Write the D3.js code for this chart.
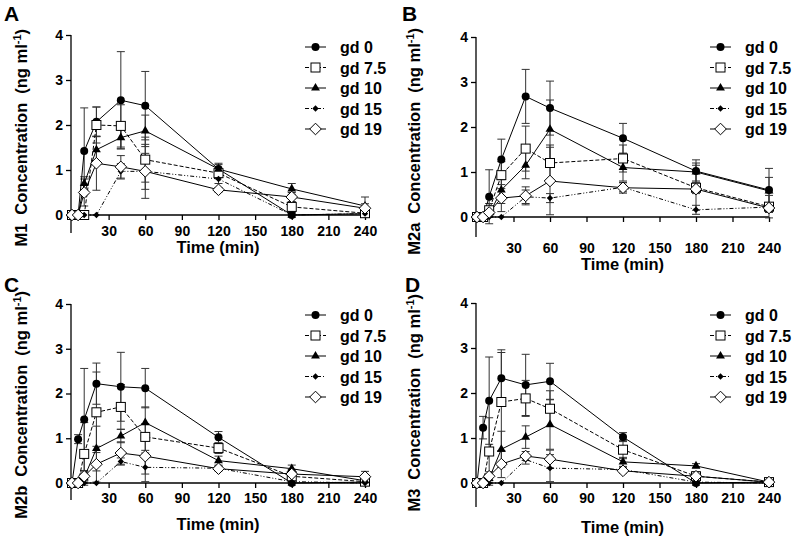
<!DOCTYPE html>
<html><head><meta charset="utf-8">
<script src="https://cdn.jsdelivr.net/npm/d3@7"></script>
<style>body{margin:0;background:#fff} text{font-family:"Liberation Sans",Arial,sans-serif;font-weight:bold;fill:#000}</style>
</head><body><svg id="c" width="793" height="539"></svg>
<script>
// ---------- data ----------
const times = [0, 5, 10, 20, 40, 60, 120, 180, 240];
const groups = ["gd 0", "gd 7.5", "gd 10", "gd 15", "gd 19"];
const xTicks = [30, 60, 90, 120, 150, 180, 210, 240];
const yTicks = [0, 1, 2, 3, 4];
const panelLetters = ["A", "B", "C", "D"];
const metabolites = ["M1", "M2a", "M2b", "M3"];

const M1_mean = [
  [0, 0, 1.42, 2.07, 2.55, 2.43, 1.02, 0, 0.03],
  [0, 0, 0, 2.0, 1.98, 1.23, 0.93, 0.18, 0.04],
  [0, 0, 0.7, 1.45, 1.72, 1.87, 1.02, 0.58, 0.2],
  [0, 0, 0, 0, 0.97, 0.97, 0.8, 0.0, 0.03],
  [0, 0, 0.5, 1.15, 1.07, 0.97, 0.56, 0.4, 0.15]
];
const M1_sd = [
  [0, 0, 0.96, 0.33, 1.08, 0.76, 0.13, 0.05, 0.05],
  [0, 0, 0, 0.4, 0.47, 0.5, 0.1, 0.1, 0.05],
  [0, 0, 0.15, 0.3, 0.25, 0.35, 0.1, 0.12, 0.2],
  [0, 0, 0, 0, 0.17, 0.6, 0.1, 0.05, 0.05],
  [0, 0, 0.3, 0.6, 0.25, 0.4, 0.05, 0.1, 0.1]
];
const M2a_mean = [
  [0, 0, 0.45, 1.28, 2.68, 2.42, 1.75, 1.02, 0.6],
  [0, 0, 0.15, 0.93, 1.52, 1.2, 1.3, 0.65, 0.23],
  [0, 0, 0.05, 0.6, 1.15, 1.95, 1.1, 1.0, 0.58],
  [0, 0, 0, 0, 0.45, 0.42, 0.66, 0.16, 0.22],
  [0, 0, 0.1, 0.42, 0.47, 0.8, 0.65, 0.62, 0.2]
];
const M2a_sd = [
  [0, 0, 0.6, 0.45, 0.6, 0.6, 0.33, 0.25, 0.48],
  [0, 0, 0.15, 0.3, 0.5, 0.4, 0.3, 0.5, 0.25],
  [0, 0, 0.05, 0.3, 0.3, 0.65, 0.3, 0.2, 0.3],
  [0, 0, 0, 0, 0.15, 0.1, 0.1, 0.1, 0.1],
  [0, 0, 0.1, 0.3, 0.2, 0.75, 0.12, 0.1, 0.1]
];
const M2b_mean = [
  [0, 0.98, 1.42, 2.22, 2.15, 2.12, 1.02, 0, 0.02],
  [0, 0, 0.65, 1.58, 1.7, 1.03, 0.78, 0.15, 0.03],
  [0, 0, 0.12, 0.77, 1.05, 1.35, 0.5, 0.32, 0.05],
  [0, 0, 0, 0, 0.48, 0.35, 0.33, 0.03, 0],
  [0, 0, 0.15, 0.42, 0.67, 0.6, 0.32, 0.2, 0.14]
];
const M2b_sd = [
  [0, 0.1, 1.14, 0.46, 0.77, 0.44, 0.13, 0.05, 0.05],
  [0, 0, 0.7, 0.9, 0.5, 0.3, 0.12, 0.1, 0.05],
  [0, 0, 0.1, 0.5, 0.15, 0.35, 0.1, 0.08, 0.05],
  [0, 0, 0, 0, 0.08, 0.32, 0.05, 0.03, 0.02],
  [0, 0, 0.1, 0.4, 0.25, 0.4, 0.05, 0.1, 0.12]
];
const M3_mean = [
  [0, 1.23, 1.83, 2.33, 2.18, 2.26, 1.02, 0, 0.02],
  [0, 0, 0.7, 1.8, 1.88, 1.65, 0.74, 0.15, 0.02],
  [0, 0, 0.1, 0.75, 1.02, 1.3, 0.47, 0.38, 0.02],
  [0, 0, 0, 0, 0.52, 0.33, 0.3, 0.02, 0],
  [0, 0, 0.15, 0.42, 0.6, 0.53, 0.27, 0.15, 0.02]
];
const M3_sd = [
  [0, 0.25, 0.97, 0.63, 0.68, 0.4, 0.1, 0.05, 0.03],
  [0, 0, 0.75, 1.1, 0.4, 0.4, 0.2, 0.1, 0.02],
  [0, 0, 0.1, 0.4, 0.25, 0.55, 0.1, 0.05, 0.02],
  [0, 0, 0, 0, 0.1, 0.3, 0.05, 0.02, 0],
  [0, 0, 0.1, 0.3, 0.1, 0.2, 0.05, 0.05, 0.02]
];
const means = [M1_mean, M2a_mean, M2b_mean, M3_mean];
const sds = [M1_sd, M2a_sd, M2b_sd, M3_sd];

// ---------- layout / style ----------
const layout = [
  {lx: 4, ly: 21, left: 71, right: 365, top: 35, zero: 215, ext: 18, tickY: 236, titleY: 253, ylabX: 27, ylabTop: 29, legX: 305, legY: 47},
  {lx: 402, ly: 21, left: 476, right: 769, top: 37, zero: 217, ext: 20, tickY: 253, titleY: 270, ylabX: 420, ylabTop: 28, legX: 710, legY: 47},
  {lx: 4, ly: 292, left: 71, right: 365, top: 304, zero: 483, ext: 17, tickY: 503, titleY: 530, ylabX: 27, ylabTop: 291, legX: 305, legY: 315},
  {lx: 405, ly: 292, left: 476, right: 769, top: 303, zero: 483, ext: 24, tickY: 503, titleY: 533, ylabX: 420, ylabTop: 294, legX: 710, legY: 315}
];
const dashes = [null, "4,2", null, "4,2,1,2,1,2", null];
const legStep = 20.5;
const FONT = "'Liberation Sans', Arial, sans-serif";

const svg = d3.select("#c");

function marker(g, i, x, y) {
  const s = g.append("g").attr("transform", `translate(${x},${y})`);
  if (i === 0) s.append("circle").attr("r", 4).attr("fill", "#000");
  else if (i === 1) s.append("rect").attr("x", -4.5).attr("y", -4.5).attr("width", 9).attr("height", 9).attr("fill", "#fff").attr("stroke", "#000").attr("stroke-width", 1);
  else if (i === 2) s.append("path").attr("d", d3.symbol(d3.symbolTriangle, 34)()).attr("fill", "#000");
  else if (i === 3) s.append("path").attr("d", "M0,-3.2L3.2,0L0,3.2L-3.2,0Z").attr("fill", "#000");
  else s.append("path").attr("d", "M0,-5.8L5.8,0L0,5.8L-5.8,0Z").attr("fill", "#fff").attr("stroke", "#000").attr("stroke-width", 1);
}

layout.forEach((L, p) => {
  const x = d3.scaleLinear().domain([0, 240]).range([L.left + 1, L.right]);
  const y = d3.scaleLinear().domain([0, 4]).range([L.zero, L.top]);
  const g = svg.append("g");

  g.append("text").attr("x", L.lx).attr("y", L.ly).style("font-size", "21px").text(panelLetters[p]);

  // y axis
  const ya = d3.axisLeft(y).tickValues(yTicks).tickSize(5).tickPadding(3).tickFormat(d3.format("d"));
  const yg = g.append("g").attr("transform", `translate(${L.left},0)`).call(ya);
  yg.select(".domain").attr("d", `M0,${L.top}V${L.zero + L.ext}`);
  yg.selectAll("line,path").attr("stroke", "#000").attr("stroke-width", 1.3);
  yg.selectAll("text").style("font-size", "14px").style("font-family", FONT).style("font-weight", "bold");

  // x axis
  const xa = d3.axisBottom(x).tickValues(xTicks).tickSize(5).tickFormat(d3.format("d"));
  const xg = g.append("g").attr("transform", `translate(0,${L.zero})`).call(xa);
  xg.select(".domain").attr("d", `M${L.left},0H${L.right}`);
  xg.selectAll("line,path").attr("stroke", "#000").attr("stroke-width", 1.3);
  xg.selectAll("text").attr("y", L.tickY - L.zero).attr("dy", 0).style("font-size", "14px").style("font-family", FONT).style("font-weight", "bold");

  // axis titles
  g.append("text").attr("x", (L.left + L.right) / 2).attr("y", L.titleY).attr("text-anchor", "middle").style("font-size", "16.5px").text("Time (min)");
  const yl = g.append("text").attr("transform", `translate(${L.ylabX},${L.ylabTop}) rotate(-90)`).attr("text-anchor", "end").style("font-size", "16.5px");
  yl.append("tspan").text(metabolites[p]);
  yl.append("tspan").attr("dx", 9).text("Concentration");
  yl.append("tspan").attr("dx", 9).text("(ng ml");
  yl.append("tspan").attr("dy", -6).style("font-size", "11px").text("-1");
  yl.append("tspan").attr("dy", 6).text(")");

  const line = d3.line().x((d, k) => x(times[k])).y(d => y(d));
  groups.forEach((gn, i) => {
    means[p][i].forEach((m, k) => {
      const s = sds[p][i][k];
      if (s <= 0) return;
      const cx = x(times[k]);
      g.append("path").attr("d", `M${cx},${y(m - s)}V${y(m + s)}M${cx - 4},${y(m + s)}H${cx + 4}M${cx - 4},${y(m - s)}H${cx + 4}`)
        .attr("stroke", "#333").attr("stroke-width", 1).attr("fill", "none");
    });
  });
  groups.forEach((gn, i) => {
    g.append("path").datum(means[p][i]).attr("d", line).attr("fill", "none").attr("stroke", "#000").attr("stroke-width", 1)
      .attr("stroke-dasharray", dashes[i]);
  });
  groups.forEach((gn, i) => {
    means[p][i].forEach((m, k) => marker(g, i, x(times[k]), y(m)));
  });

  // legend
  groups.forEach((gn, i) => {
    const ly = L.legY + i * legStep;
    g.append("line").attr("x1", L.legX).attr("x2", L.legX + 21).attr("y1", ly).attr("y2", ly)
      .attr("stroke", "#000").attr("stroke-width", 1).attr("stroke-dasharray", dashes[i]);
    marker(g, i, L.legX + 10.5, ly);
    g.append("text").attr("x", L.legX + 35).attr("y", ly + 6).style("font-size", "16px").text(gn);
  });
});
</script></body></html>
